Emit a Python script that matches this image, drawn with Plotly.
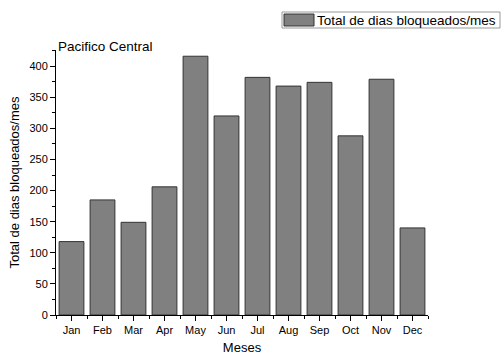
import plotly.graph_objects as go

months = ["Jan", "Feb", "Mar", "Apr", "May", "Jun", "Jul", "Aug", "Sep", "Oct", "Nov", "Dec"]
dias_bloqueados = [118, 185, 149, 206, 416, 320, 382, 368, 374, 288, 379, 140]
y_ticks = [0, 50, 100, 150, 200, 250, 300, 350, 400]
series_name = "Total de dias bloqueados/mes"
region_label = "Pacifico Central"

FONT = "Liberation Sans, Arial, sans-serif"
idx = list(range(len(months)))

fig = go.Figure()
fig.add_trace(go.Bar(
    x=idx, y=dias_bloqueados, name=series_name,
    marker=dict(color="#808080", line=dict(color="#333333", width=1)),
    width=0.8, showlegend=False,
))

fig.update_layout(
    width=502, height=355,
    margin=dict(l=56, r=74, t=50, b=40),
    paper_bgcolor="white", plot_bgcolor="white",
    font=dict(family=FONT, color="black", size=11),
)
fig.update_xaxes(
    range=[-0.5, 11.5], tickvals=idx, ticktext=months,
    showline=True, linecolor="black", linewidth=1,
    ticks="outside", ticklen=5, tickcolor="black",
    minor=dict(tickvals=[i - 0.5 for i in range(len(months) + 1)], ticks="outside", ticklen=3, tickcolor="black"),
    showgrid=False, zeroline=False, automargin=False,
    title=dict(text="Meses", font=dict(size=13), standoff=12),
    tickfont=dict(size=11),
)
fig.update_yaxes(
    range=[0, 426], tickvals=y_ticks,
    showline=True, linecolor="black", linewidth=1,
    ticks="outside", ticklen=5, tickcolor="black",
    minor=dict(dtick=25, ticks="outside", ticklen=3, tickcolor="black", showgrid=False),
    showgrid=False, zeroline=False, automargin=False,
    title=dict(text=series_name, font=dict(size=13), standoff=6),
    tickfont=dict(size=11),
)

# region label
fig.add_annotation(xref="paper", yref="paper", x=0.0, y=(315 - 46) / 265, xanchor="left", yanchor="middle",
                   text=region_label, showarrow=False, font=dict(size=13.5))

# legend box (drawn manually to mimic wide swatch)
fig.add_shape(type="rect", xref="paper", yref="paper",
              x0=(282 - 56) / 372, x1=(500 - 56) / 372,
              y0=(315 - 28) / 265, y1=(315 - 12) / 265,
              line=dict(color="#999999", width=1), fillcolor="white")
fig.add_shape(type="rect", xref="paper", yref="paper",
              x0=(284 - 56) / 372, x1=(314 - 56) / 372,
              y0=(315 - 26) / 265, y1=(315 - 14) / 265,
              line=dict(color="#333333", width=1), fillcolor="#808080")
fig.add_annotation(xref="paper", yref="paper", x=(315 - 56) / 372, y=(315 - 20) / 265,
                   xanchor="left", yanchor="middle", text=series_name, showarrow=False,
                   font=dict(size=13.5))

fig.write_html("out.html")
